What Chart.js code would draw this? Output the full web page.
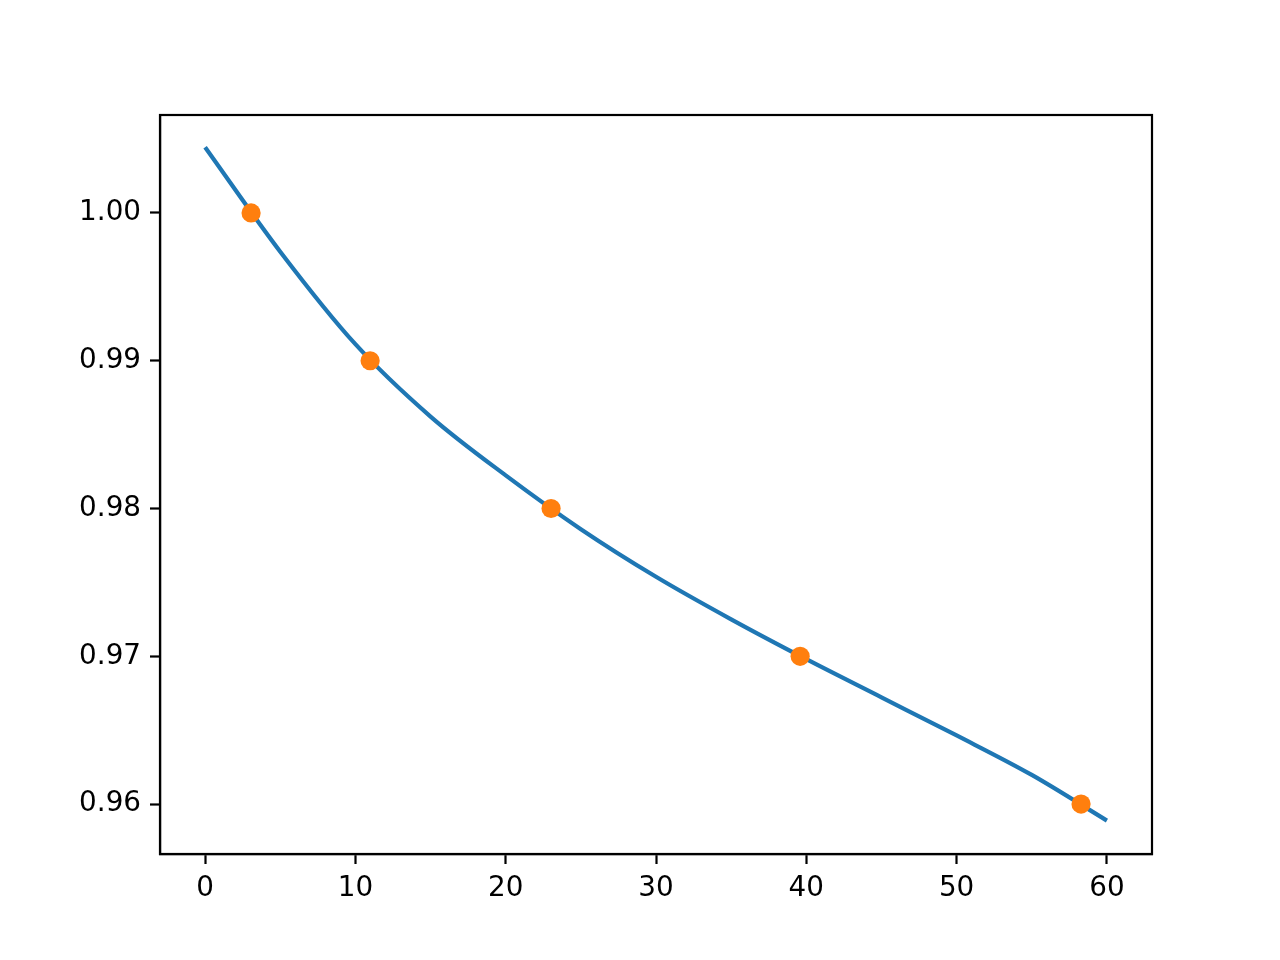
<!DOCTYPE html>
<html>
<head>
<meta charset="utf-8">
<script src="https://cdn.jsdelivr.net/npm/chart.js@4/dist/chart.umd.min.js"></script>
<style>
html,body{margin:0;padding:0;background:#fff;}
#c{display:block;}
</style>
</head>
<body>
<canvas id="c" width="1280" height="960"></canvas>
<script>
// Curve values
const curveX = [0, 5, 10, 15, 20, 25, 30, 35, 40, 45, 50, 55, 60];
const curveY = [1.00445, 0.99738, 0.99112, 0.98622, 0.98224, 0.97860, 0.97538, 0.97250, 0.96980, 0.96722, 0.96464, 0.96197, 0.95888];
// Marker points
const pointX = [3.06, 10.98, 23.02, 39.59, 58.28];
const pointY = [1.00, 0.99, 0.98, 0.97, 0.96];
// Tick labels
const xTicks = [0, 10, 20, 30, 40, 50, 60];
const yTicks = [0.96, 0.97, 0.98, 0.99, 1.00];

const FONT = {family: "'DejaVu Sans', sans-serif", size: 27.8};

const framePlugin = {
  id: 'frame',
  afterDraw(chart) {
    const {ctx, chartArea: a} = chart;
    ctx.save();
    ctx.strokeStyle = '#000';
    ctx.lineWidth = 2.2;
    ctx.strokeRect(a.left, a.top, a.right - a.left, a.bottom - a.top);
    ctx.restore();
  }
};

new Chart(document.getElementById('c'), {
  type: 'line',
  data: {
    datasets: [
      {
        type: 'scatter',
        data: pointX.map((x, i) => ({x, y: pointY[i]})),
        backgroundColor: '#ff7f0e',
        borderColor: '#ff7f0e',
        pointRadius: 9.6,
        pointBorderWidth: 0,
        showLine: false,
        order: 0
      },
      {
        type: 'line',
        data: curveX.map((x, i) => ({x, y: curveY[i]})),
        borderColor: '#1f77b4',
        borderWidth: 4.2,
        pointRadius: 0,
        cubicInterpolationMode: 'monotone',
        fill: false,
        order: 1
      }
    ]
  },
  options: {
    responsive: false,
    animation: false,
    devicePixelRatio: 1,
    layout: {padding: {top: 115, right: 128, left: 0, bottom: 0}},
    plugins: {legend: {display: false}, tooltip: {enabled: false}},
    scales: {
      x: {
        type: 'linear',
        min: -3,
        max: 63,
        afterBuildTicks: s => { s.ticks = xTicks.map(v => ({value: v})); },
        afterFit: s => { s.height = 106; },
        grid: {drawOnChartArea: false, tickLength: 10, tickColor: '#000', tickWidth: 2.2},
        border: {display: true, color: '#000', width: 2.2},
        ticks: {color: '#000', font: FONT, padding: 8, maxRotation: 0, autoSkip: false,
                callback: v => String(v)}
      },
      y: {
        type: 'linear',
        min: 0.95662,
        max: 1.00663,
        afterBuildTicks: s => { s.ticks = yTicks.map(v => ({value: v})); },
        afterFit: s => { s.width = 160; },
        grid: {drawOnChartArea: false, tickLength: 10, tickColor: '#000', tickWidth: 2.2},
        border: {display: true, color: '#000', width: 2.2},
        ticks: {color: '#000', font: FONT, padding: 9, autoSkip: false,
                callback: v => Number(v).toFixed(2)}
      }
    }
  },
  plugins: [framePlugin]
});
</script>
</body>
</html>
